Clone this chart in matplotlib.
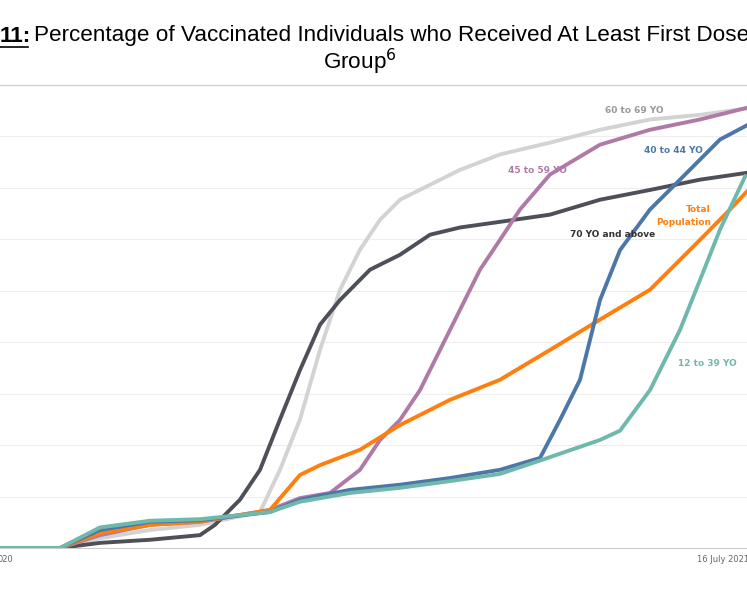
import numpy as np
import matplotlib.pyplot as plt

# x positions are time steps (arbitrary day index), y values are percent
x_70 = [0, 60, 100, 150, 200, 215, 240, 260, 280, 300, 320, 340, 370, 400, 430, 460, 500, 550, 600, 650, 700, 760]
y_70 = [0, 0, 1, 1.6, 2.5, 4.5, 9.4, 15.2, 25, 34.6, 43.4, 48.2, 54.1, 57, 60.9, 62.3, 63.4, 64.8, 67.7, 69.6, 71.6, 73.3]
x_60 = [0, 60, 100, 150, 200, 260, 280, 300, 320, 340, 360, 380, 400, 430, 460, 500, 550, 600, 650, 700, 760]
y_60 = [0, 0, 1.9, 3.5, 4.5, 7, 15.2, 25, 38.5, 50.2, 58, 63.8, 67.7, 70.6, 73.5, 76.5, 78.8, 81.3, 83.3, 84.2, 85.8]
x_45 = [0, 60, 100, 150, 200, 270, 300, 330, 360, 380, 400, 420, 450, 480, 500, 520, 550, 600, 650, 700, 760]
y_45 = [0, 0, 2.5, 4.5, 5.1, 7.4, 9.7, 10.7, 15.2, 21, 24.9, 30.7, 42.4, 54.1, 59.9, 65.8, 72.6, 78.4, 81.3, 83.3, 86.2]
x_40 = [0, 60, 100, 150, 200, 270, 300, 350, 400, 450, 500, 540, 560, 580, 600, 620, 650, 680, 700, 720, 760]
y_40 = [0, 0, 3.5, 5.1, 5.4, 7, 9.4, 11.3, 12.3, 13.6, 15.2, 17.5, 24.9, 32.7, 48.2, 57.9, 65.8, 71.6, 75.5, 79.4, 83.5]
x_12 = [0, 60, 100, 150, 200, 270, 300, 350, 400, 450, 500, 540, 600, 620, 650, 680, 700, 720, 746]
y_12 = [0, 0, 4, 5.3, 5.6, 7, 9, 10.7, 11.7, 13, 14.4, 17, 21, 22.8, 30.7, 42.4, 52.1, 61.9, 72.6]
x_tot = [0, 60, 100, 150, 200, 270, 300, 320, 360, 400, 450, 500, 550, 600, 650, 700, 730, 760]
y_tot = [0, 0, 2.9, 4.5, 5.1, 7.4, 14.2, 16.1, 19.1, 23.9, 28.8, 32.7, 38.5, 44.4, 50.2, 59.9, 65.8, 72]

c_70 = '#4d5058'
c_60 = '#d3d3d3'
c_45 = '#b07aa6'
c_40 = '#4c78a8'
c_12 = '#6fb8ac'
c_tot = '#ff7f0e'

fig = plt.figure(figsize=(7.47, 5.98), dpi=100)
ax = fig.add_axes([0, (598 - 548) / 598, 770 / 747, (548 - 85) / 598])
for xs, ys, c in [(x_60, y_60, c_60), (x_70, y_70, c_70), (x_45, y_45, c_45),
                  (x_tot, y_tot, c_tot), (x_40, y_40, c_40), (x_12, y_12, c_12)]:
    ax.plot(xs, ys, color=c, lw=2.8, solid_capstyle='butt')
ax.set_xlim(0, 770)
ax.set_ylim(0, 90)
ax.set_yticks(np.arange(0, 91, 10))
ax.yaxis.grid(True, color='#eeeeee', lw=0.8)
ax.set_axisbelow(True)
ax.tick_params(left=False, labelleft=False, bottom=False, labelbottom=False)
for s in ['left', 'right']:
    ax.spines[s].set_visible(False)
ax.spines['top'].set_color('#cccccc')
ax.spines['bottom'].set_color('#cccccc')

lab = dict(fontsize=6.5, fontweight='bold', family='DejaVu Sans')
ax.text(605, 84.5, '60 to 69 YO', color='#999999', **lab)
ax.text(644, 76.8, '40 to 44 YO', color=c_40, **lab)
ax.text(508, 72.8, '45 to 59 YO', color=c_45, **lab)
ax.text(570, 60.4, '70 YO and above', color='#333333', **lab)
ax.text(711, 65.4, 'Total', color=c_tot, ha='right', **lab)
ax.text(711, 62.8, 'Population', color=c_tot, ha='right', **lab)
ax.text(678, 35.4, '12 to 39 YO', color=c_12, **lab)

fig.text(-0.004, 1 - 560 / 598, '020', fontsize=6, color='#666666', va='center')
fig.text(697 / 747, 1 - 560 / 598, '16 July 2021', fontsize=6, color='#666666', va='center')

tf = dict(fontsize=16.2, family='Liberation Sans', va='center')
fig.text(0.0, 1 - 36 / 598, '11:', fontweight='bold', **tf)
fig.add_artist(plt.Line2D([0, 28 / 747], [1 - 47 / 598] * 2, color='black', lw=1.2))
fig.text(34 / 747, 1 - 36 / 598, 'Percentage of Vaccinated Individuals who Received At Least First Dose by Age',
         **tf)
fig.text(360 / 747, 1 - 62 / 598, 'Group$^{6}$', ha='center', **tf)

fig.savefig('out.png', dpi=100)
